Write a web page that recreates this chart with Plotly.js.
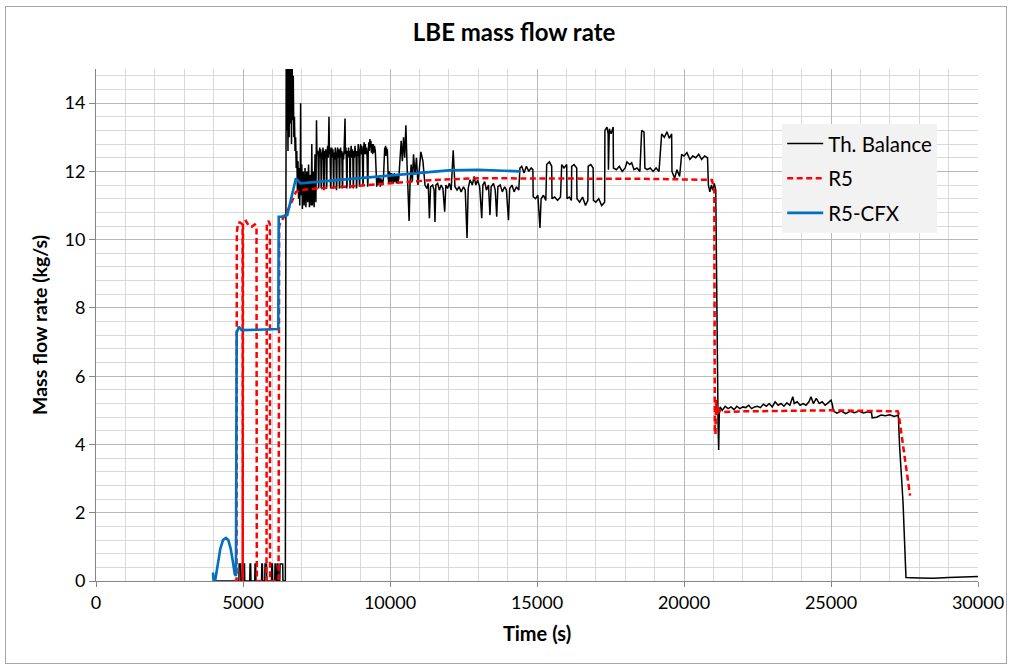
<!DOCTYPE html>
<html>
<head>
<meta charset="utf-8">
<script src="https://cdn.plot.ly/plotly-3.0.1.min.js"></script>
<style>
  html, body { margin: 0; padding: 0; background: #fff; }
  #frame { position: absolute; left: 5px; top: 6px; width: 1002px; height: 658px; border: 1px solid #a6a6a6; box-sizing: border-box; }
  #chart { position: absolute; left: 0; top: 0; width: 1014px; height: 671px; }
</style>
</head>
<body>
<div id="frame"></div>
<div id="chart"></div>
<script>
// ---- Th. Balance (measured) ----
const tBal = [
  4000,4860,4870,4920,4930,4980,4990,5050,5060,5230,5240,5260,5270,5400,5410,5430,5440,5630,5640,5660,5670,5740,5750,5800,5810,5970,5980,6000,6010,6080,6090,6110,6120,6160,6170,6190,6200,6250,6260,6350,6360,6440,
  6460,6470,6490,6510,6530,6550,6570,6590,6610,6630,6650,6670,6690,6710,6730,6750,6770,6790,6810,6830,6850,6870,6890,6910,6930,6950,6960,6975,7000,7020,7050,7080,7110,7140,7170,7200,7230,7260,7290,7320,7340,7360,7390,7420,7450,7480,7500,7515,
  7540,7555,7570,7580,7590,7610,7630,7645,7660,7670,
  7680,7700,7720,7735,7750,7760,7770,7790,7810,7825,
  7840,7850,7860,7880,7900,7925,7940,7960,7980,7990,
  8000,8020,8040,8060,8080,8090,8100,8120,8140,8160,
  8180,8190,8200,8220,8240,8260,8280,8290,8300,8320,
  8340,8360,8380,8390,8400,8420,8440,8470,8485,8500,
  8515,8530,8540,8550,8570,8590,8610,8625,8640,8650,
  8660,8680,8700,8720,8735,8750,8760,8770,8790,8810,
  8830,8845,8860,8870,8880,8900,8920,8940,8960,8970,
  8980,9000,9020,9040,9060,9080,9090,9100,9120,9140,
  9160,9180,9200,9220,9240,9250,9260,9280,9300,9315,
  9330,9350,9370,9390,9410,9430,9450,9470,9500,9530,
  9550,9570,9590,9610,9630,9650,9670,9690,9710,9730,
  9750,9780,9800,9820,9835,9850,9865,9880,9895,9910,
  9940,9960,9980,10000,10020,10040,10060,10080,10100,10120,
  10150,10170,10200,10220,10250,10270,10300,
  10340,10380,10420,10460,10500,10540,10580,10620,10650,10680,
  10720,10760,10800,10850,10900,10950,11000,11050,11120,11190,11250,11300,11340,11380,11450,11500,11530,11560,11620,11680,11740,11800,11860,11900,11960,12020,12080,12150,12210,12280,12350,12420,12500,12560,12620,12660,12720,12800,12860,12920,12980,13050,13120,13160,13220,13280,13350,13400,13440,13520,13580,13630,13670,13750,13820,13900,13960,14030,14070,14150,14220,14300,14380,14420,
  14480,14560,14640,14720,14800,14860,14870,14950,15030,15100,15140,15220,15300,15330,15420,15500,15510,15600,15700,15800,15840,15920,16010,16020,16100,16170,16180,16260,16350,16360,16450,16550,16650,16730,16740,16830,16910,16920,17000,17100,17200,17300,17310,
  17380,17420,17430,17460,17520,17590,17600,17700,17800,17900,18000,18060,18150,18220,18300,18400,18500,18560,18640,18670,18750,18850,18950,19050,19150,19240,19330,19420,19500,19580,19590,19680,19760,19850,19920,20000,20100,20200,20300,20400,20500,20600,20700,20800,20830,20880,20930,20980,21030,21080,21100,21130,21160,21180,21200,21230,
  21300,21400,21500,21600,21700,21800,21900,22000,22100,22200,22300,22400,22500,22600,22700,22800,22900,23000,23100,23200,23300,23400,23500,23600,23700,23750,23850,23950,24050,24150,24250,24320,24400,24500,24600,24700,24800,24900,25000,25050,25080,25200,25350,25500,25650,25800,25950,26100,26250,26380,26400,26550,26700,26850,27000,27150,27290,27330,27400,27450,27500,27550,28000,28500,29000,29500,30000
];
const vBal = [
  0,0,0.5,0.5,0,0,0.5,0.5,0,0,0.5,0.5,0,0,0.5,0.5,0,0,0.5,0.5,0,0,0.5,0.5,0,0,0.5,0.5,0,0,0.5,0.5,0,0,0.5,0.5,0,0,0.5,0.5,0,0,
  10.8,15.6,13.2,15.6,12.6,15.6,13.0,15.6,13.4,15.6,12.8,15.4,13.5,14.8,13.0,13.6,12.6,13.0,12.1,12.6,11.4,12.3,11.2,12.1,11.0,12.2,14.0,11.3,12.2,10.9,12.0,11.0,12.1,10.95,12.0,11.1,12.2,10.95,11.9,11.0,12.8,11.0,12.0,10.95,12.5,11.1,13.5,12.5,
  12.6,12.4,11.5,11.6,12.5,12.7,12.4,12.65,11.5,11.55,
  12.55,12.35,12.7,12.45,11.45,11.6,12.6,12.4,12.65,12.35,
  11.5,11.6,12.55,12.75,12.4,13.6,12.5,12.7,11.5,11.6,
  12.5,12.7,12.4,12.65,11.5,11.6,12.55,12.35,12.7,12.45,
  11.45,11.55,12.5,12.7,12.4,12.65,11.5,11.6,12.5,12.7,
  12.4,12.6,11.5,11.6,12.55,12.35,12.65,13.55,12.5,12.7,
  12.4,11.5,11.6,12.6,12.4,12.7,12.45,12.6,11.5,11.6,
  12.55,12.75,12.4,12.65,12.45,11.5,11.6,12.6,12.4,12.75,
  12.45,12.6,11.5,11.6,12.6,12.45,12.8,12.5,11.55,11.65,
  12.6,12.8,12.5,12.75,12.5,11.6,11.7,12.65,12.85,12.5,
  12.8,12.5,12.7,12.45,11.55,11.7,12.6,12.85,12.6,12.95,
  12.7,12.9,12.55,12.8,12.5,12.8,12.55,12.75,12.6,11.75,
  11.55,11.8,11.6,11.85,11.6,11.8,11.55,11.8,11.6,11.75,
  11.6,11.85,12.4,12.7,12.45,12.75,12.5,12.7,12.45,12.65,
  11.8,11.65,12.0,11.7,11.95,11.65,11.95,11.7,11.9,11.65,
  11.95,11.7,11.9,11.65,11.9,11.65,11.8,
  12.4,12.9,12.3,13.0,12.4,13.35,12.2,11.5,10.55,11.6,
  12.2,11.7,12.5,11.9,12.4,11.6,12.0,12.57,12.3,11.6,11.5,11.65,10.63,11.55,11.6,11.45,10.52,11.6,11.65,11.45,11.6,11.5,10.82,11.6,11.5,11.65,11.45,12.62,11.55,11.45,11.55,11.4,11.55,11.45,10.05,11.5,11.75,11.6,11.85,11.6,11.75,11.55,10.63,11.6,11.7,11.45,11.6,10.72,11.55,11.65,11.45,10.67,11.55,11.6,11.4,11.55,11.45,10.57,11.5,11.6,11.4,11.55,11.45,12.1,
  12.15,11.95,12.15,12.0,12.1,12.05,11.26,11.2,11.3,10.34,11.2,11.3,11.15,12.2,12.28,12.15,11.2,11.25,11.15,11.25,12.2,12.1,12.2,11.2,11.25,11.15,12.15,12.2,12.1,11.2,11.1,11.25,11.0,11.15,12.15,12.2,12.1,11.15,11.1,11.2,11.0,11.1,13.2,
  13.3,13.1,12.05,13.25,13.1,13.3,12.1,12.05,12.15,12.0,12.1,12.28,12.2,12.25,12.05,12.1,12.0,13.2,13.15,12.1,12.05,12.1,12.0,12.1,12.0,13.1,13.0,13.16,12.97,13.1,12.0,11.8,12.05,11.85,12.5,12.45,12.55,12.35,12.45,12.4,12.5,12.35,12.45,12.4,11.6,11.4,11.6,11.45,11.65,11.45,9.5,6.0,4.5,3.84,4.9,5.1,
  5.0,5.12,5.05,5.1,5.02,5.12,5.05,5.1,5.08,5.15,5.05,5.1,5.12,5.08,5.18,5.12,5.2,5.1,5.25,5.15,5.2,5.12,5.22,5.15,5.4,5.2,5.25,5.15,5.2,5.15,5.25,5.4,5.2,5.35,5.2,5.25,5.15,5.22,5.3,5.15,4.98,4.92,4.98,4.9,4.97,4.93,4.98,4.92,4.96,4.93,4.78,4.8,4.86,4.84,4.87,4.82,4.86,4.0,3.0,2.3,1.2,0.1,0.09,0.08,0.1,0.11,0.13
];

// ---- R5 ----
const tR5 = [4700,4780,4790,4830,4900,4985,4990,5000,5100,5200,5300,5400,5460,5470,5800,5810,5870,5915,5920,6210,6230,6260,6505,6800,6950,7500,8500,9500,10500,11500,13000,15000,17000,19000,20950,21000,21030,21050,21070,21090,21130,21200,21300,22000,24000,25000,27270,27300,27690];
const vR5 = [0,0,10.2,10.5,10.5,10.45,0,10.5,10.55,10.4,10.38,10.45,10.4,0,0,10.45,10.55,10.45,0,0,10.4,10.48,10.82,11.4,11.45,11.5,11.55,11.62,11.7,11.75,11.8,11.8,11.78,11.78,11.75,11.6,11.45,4.4,4.3,5.3,4.9,5.0,4.95,4.97,5.0,5.0,4.97,4.9,2.5];

// ---- R5-CFX ----
const tCFX = [3980,4000,4060,4150,4230,4320,4420,4500,4580,4650,4720,4760,4785,4860,4950,5500,6200,6215,6300,6505,6800,6950,8000,9000,10000,11000,12000,13000,14000,14420];
const vCFX = [0.25,0,0.05,0.5,0.95,1.2,1.26,1.2,0.95,0.6,0.2,0.15,7.27,7.45,7.35,7.36,7.38,10.67,10.67,10.72,11.8,11.65,11.73,11.81,11.89,11.97,12.03,12.05,12.03,12.0];

const seriesNames = ['Th. Balance', 'R5', 'R5-CFX'];

const FONT = 'Lato, "Open Sans", sans-serif';

const traces = [
  {x: tBal, y: vBal, name: seriesNames[0], type: 'scatter', mode: 'lines', legendgroup: 'a',
   line: {color: '#000000', width: 1.5}},
  {x: tR5, y: vR5, name: seriesNames[1], type: 'scatter', mode: 'lines', legendgroup: 'b',
   line: {color: '#ff0000', width: 2.5, dash: '6px,3.5px'}},
  {x: tCFX, y: vCFX, name: seriesNames[2], type: 'scatter', mode: 'lines', legendgroup: 'c',
   line: {color: '#0070c0', width: 2.6}}
];

const layout = {
  width: 1014, height: 671,
  paper_bgcolor: 'rgba(0,0,0,0)', plot_bgcolor: '#ffffff',
  margin: {l: 96, r: 36, t: 69, b: 90},
  font: {family: FONT, color: '#000'},
  title: {text: '<b>LBE mass flow rate</b>', font: {family: FONT, size: 24, color: '#000'}, x: 0.507, xanchor: 'center', y: 0.952, yanchor: 'middle'},
  showlegend: true,
  legend: {x: 0.778, xanchor: 'left', y: 0.893, yanchor: 'top', bgcolor: '#f2f2f2', borderwidth: 0,
           font: {family: FONT, size: 20.5, color: '#000'}, itemwidth: 36, tracegroupgap: 5, traceorder: 'grouped'},
  xaxis: {
    range: [0, 30000], dtick: 5000, tick0: 0, autorange: false, tickformat: 'd',
    showgrid: true, gridcolor: '#b8b8b8', gridwidth: 1,
    minor: {dtick: 1000, showgrid: true, gridcolor: '#d9d9d9', gridwidth: 1},
    showline: true, linecolor: '#868686', linewidth: 1,
    ticks: 'outside', ticklen: 5, tickcolor: '#868686',
    zeroline: false,
    tickfont: {family: FONT, size: 18, color: '#000'},
    title: {text: '<b>Time (s)</b>', font: {family: FONT, size: 20, color: '#000'}, standoff: 15}
  },
  yaxis: {
    range: [0, 15], dtick: 2, tick0: 0, autorange: false,
    showgrid: true, gridcolor: '#b8b8b8', gridwidth: 1,
    minor: {dtick: 0.4, showgrid: true, gridcolor: '#d9d9d9', gridwidth: 1},
    showline: true, linecolor: '#868686', linewidth: 1,
    ticks: 'outside', ticklen: 6, tickcolor: '#868686',
    zeroline: false,
    tickfont: {family: FONT, size: 18, color: '#000'},
    title: {text: '<b>Mass flow rate (kg/s)</b>', font: {family: FONT, size: 19.5, color: '#000'}, standoff: 11}
  }
};

Plotly.newPlot('chart', traces, layout, {displayModeBar: false, staticPlot: true});
</script>
</body>
</html>
